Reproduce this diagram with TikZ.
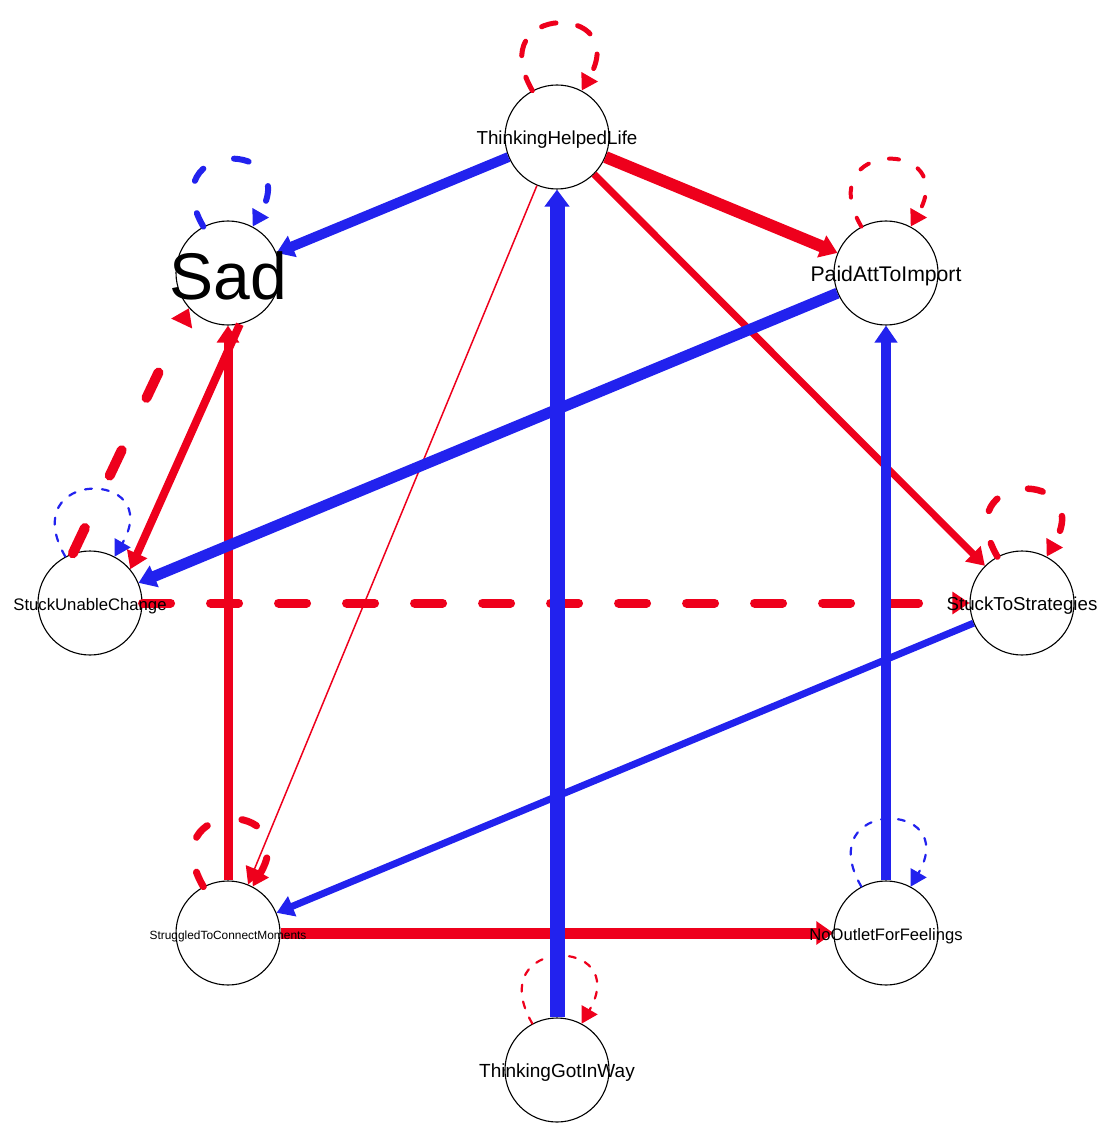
\documentclass[tikz,border=0pt]{standalone}
\usepackage{fontspec}
\setmainfont{Liberation Sans}
\usetikzlibrary{arrows.meta}
\definecolor{qred}{RGB}{238,0,28}
\definecolor{qblue}{RGB}{34,34,238}
\tikzset{
  vert/.style={circle, draw=black, line width=1.1pt, fill=white, minimum size=104pt, inner sep=0pt},
  lab/.style={inner sep=0pt, text=black, yshift=-3pt},
  edgearrow/.style={-{Triangle[length=17pt,width=18pt 0.4]}},
  looparrow/.style={-{Triangle[length=16pt,width=18pt]}, line cap=round},
}
\begin{document}
\begin{tikzpicture}[x=1pt,y=1pt]
\path[use as bounding box] (0,0) rectangle (1112,-1131);
% vertices
\node[vert] (thl) at (557,-137) {};
\node[vert] (sad) at (228,-273) {};
\node[vert] (pai) at (886,-273) {};
\node[vert] (suc) at (90,-603) {};
\node[vert] (sts) at (1022,-603) {};
\node[vert] (scm) at (228,-933) {};
\node[vert] (nof) at (886,-933) {};
\node[vert] (tgw) at (557,-1070) {};
% thin loops
\draw[looparrow, qblue, line width=2.2pt, dash pattern=on 7pt off 10pt] (suc.118) .. controls +(120:102) and +(60:102) .. (suc.62);
\draw[looparrow, qblue, line width=2.2pt, dash pattern=on 7pt off 10pt] (nof.118) .. controls +(120:102) and +(60:102) .. (nof.62);
\draw[looparrow, qred, line width=2.2pt, dash pattern=on 7pt off 10pt] (tgw.118) .. controls +(120:102) and +(60:102) .. (tgw.62);
% thin edge
\draw[edgearrow, qred, line width=1.5pt] (thl) -- (scm);
% thicker loops
\draw[looparrow, qred, line width=4pt, dash pattern=on 10pt off 21pt] (pai.118) .. controls +(120:102) and +(60:102) .. (pai.62);
\draw[looparrow, qred, line width=5pt, dash pattern=on 15pt off 22pt] (thl.118) .. controls +(120:102) and +(60:102) .. (thl.62);
\draw[looparrow, qblue, line width=6pt, dash pattern=on 15pt off 33pt] (sad.118) .. controls +(120:102) and +(60:102) .. (sad.62);
\draw[looparrow, qred, line width=6.5pt, dash pattern=on 15pt off 33pt] (sts.118) .. controls +(120:102) and +(60:102) .. (sts.62);
\draw[looparrow, qred, line width=7pt, dash pattern=on 16pt off 36pt] (scm.118) .. controls +(120:102) and +(60:102) .. (scm.62);
% edges
\draw[edgearrow, qred, line width=7pt] (thl) -- (sts);
\draw[edgearrow, qblue, line width=7pt] (sts) -- (scm);
\draw[edgearrow, qred, line width=8pt] (sad.-77) -- (suc.40);
\draw[edgearrow, qred, line width=9pt] (scm) -- (sad);
\draw[edgearrow, qred, line width=9pt, line cap=round, dash pattern=on 28pt off 40pt] (suc) -- (sts);
\draw[edgearrow, qred, line width=10pt, line cap=round, dash pattern=on 28pt off 58pt] (suc.109) -- (sad.222);
\draw[edgearrow, qblue, line width=10pt] (thl) -- (sad);
\draw[edgearrow, qblue, line width=10pt] (nof) -- (pai);
\draw[edgearrow, qblue, line width=11pt] (pai) -- (suc);
\draw[edgearrow, qred, line width=11pt] (scm) -- (nof);
\draw[edgearrow, qred, line width=12pt] (thl) -- (pai);
\draw[edgearrow, qblue, line width=15pt] (tgw) -- (thl);
% labels
\node[lab, font=\fontsize{18.8}{20}\selectfont] (thl-l) at (thl) {ThinkingHelpedLife};
\node[lab, font=\fontsize{66}{70}\selectfont] (sad-l) at (sad) {Sad};
\node[lab, font=\fontsize{21.2}{23}\selectfont] (pai-l) at (pai) {PaidAttToImport};
\node[lab, font=\fontsize{16.7}{18}\selectfont] (suc-l) at (suc) {StuckUnableChange};
\node[lab, font=\fontsize{18.7}{20}\selectfont] (sts-l) at (sts) {StuckToStrategies};
\node[lab, font=\fontsize{11.9}{13}\selectfont] (scm-l) at (scm) {StruggledToConnectMoments};
\node[lab, font=\fontsize{16.6}{18}\selectfont] (nof-l) at (nof) {NoOutletForFeelings};
\node[lab, font=\fontsize{19}{20}\selectfont] (tgw-l) at (tgw) {ThinkingGotInWay};
\end{tikzpicture}
\end{document}
